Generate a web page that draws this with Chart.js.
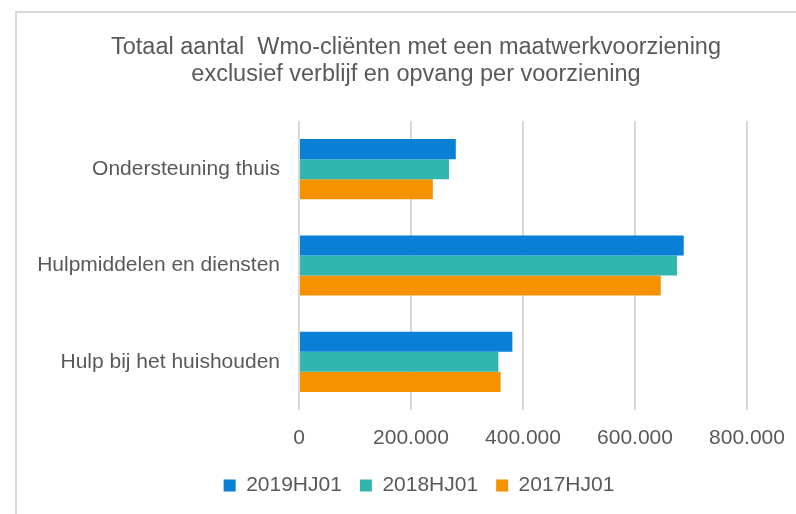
<!DOCTYPE html>
<html>
<head>
<meta charset="utf-8">
<script src="https://cdn.jsdelivr.net/npm/chart.js@4/dist/chart.umd.min.js"></script>
<style>
  html, body { margin: 0; padding: 0; background: #ffffff; overflow: hidden; }
  #frame { position: absolute; left: 15px; top: 11px; width: 820px; height: 540px; border: 2px solid #d9d9d9; box-sizing: border-box; }
  #wrap { position: absolute; left: 0; top: 0; width: 796px; height: 514px; }
</style>
</head>
<body>
<div id="frame"></div>
<div id="wrap"><canvas id="c" width="796" height="514"></canvas></div>
<script>
const categories = ['Ondersteuning thuis', 'Hulpmiddelen en diensten', 'Hulp bij het huishouden'];
const seriesNames = ['2019HJ01', '2018HJ01', '2017HJ01'];
const values2019 = [280000, 687000, 381000];
const values2018 = [268000, 675000, 356000];
const values2017 = [239000, 646000, 360000];
const xTicks = [0, 200000, 400000, 600000, 800000];
const titleLines = ['Totaal aantal  Wmo-cliënten met een maatwerkvoorziening', 'exclusief verblijf en opvang per voorziening'];
const colors = ['#0A7FD6', '#33B5AF', '#F59200'];

const fmt = v => v.toString().replace(/\B(?=(\d{3})+(?!\d))/g, '.');
const FONT = '"Liberation Sans", Arial, sans-serif';
const TXT = '#595959';

// center title and legend on the whole frame instead of the plot width
const shiftBlocks = {
  id: 'shiftBlocks',
  afterLayout(chart) {
    if (chart.titleBlock) { chart.titleBlock.left += 42.5; chart.titleBlock.right += 42.5; }
    if (chart.legend) { chart.legend.left += 45.5; chart.legend.right += 45.5; }
  }
};

new Chart(document.getElementById('c'), {
  type: 'bar',
  data: {
    labels: categories,
    datasets: [
      { label: seriesNames[0], data: values2019, backgroundColor: colors[0] },
      { label: seriesNames[1], data: values2018, backgroundColor: colors[1] },
      { label: seriesNames[2], data: values2017, backgroundColor: colors[2] }
    ]
  },
  plugins: [shiftBlocks],
  options: {
    indexAxis: 'y',
    responsive: false,
    animation: false,
    devicePixelRatio: 1,
    categoryPercentage: 0.625,
    barPercentage: 1.0,
    layout: { padding: { left: 0, right: 49, top: 0, bottom: 8 } },
    plugins: {
      title: {
        display: true,
        text: titleLines,
        color: TXT,
        font: { family: FONT, size: 23.5, weight: 'normal', lineHeight: 1.15 },
        padding: { top: 34, bottom: 33 }
      },
      legend: {
        position: 'bottom',
        labels: {
          color: TXT,
          font: { family: FONT, size: 21 },
          boxWidth: 12,
          boxHeight: 12,
          padding: 18
        }
      },
      tooltip: { enabled: false }
    },
    scales: {
      x: {
        min: 0,
        max: 800000,
        afterBuildTicks: s => { s.ticks = xTicks.map(v => ({ value: v })); },
        ticks: { color: TXT, font: { family: FONT, size: 21 }, padding: 16, callback: v => fmt(v) },
        grid: { color: '#d9d9d9', lineWidth: 2, drawTicks: false },
        border: { display: false },
        afterFit: s => { s.height = 47; s.paddingRight = 0; s.paddingLeft = 0; }
      },
      y: {
        ticks: { color: TXT, font: { family: FONT, size: 21 }, padding: 19 },
        grid: { display: false, drawTicks: false },
        border: { display: false },
        afterFit: s => { s.width = 299; }
      }
    }
  }
});
</script>
</body>
</html>
